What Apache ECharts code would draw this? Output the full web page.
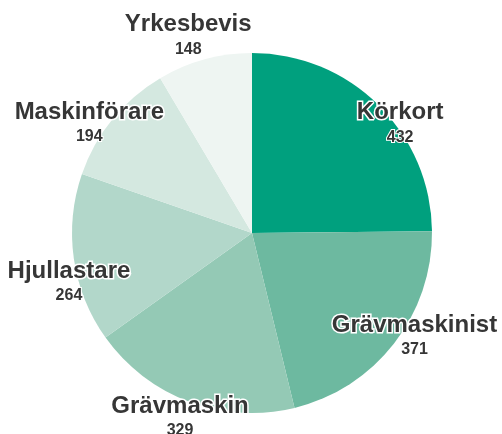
<!DOCTYPE html>
<html>
<head>
<meta charset="utf-8">
<script src="https://cdn.jsdelivr.net/npm/echarts@6/dist/echarts.min.js"></script>
<style>
  html, body { margin: 0; padding: 0; background: #ffffff; }
  #chart { width: 502px; height: 434px; }
</style>
</head>
<body>
<div id="chart"></div>
<script>
// Categories and counts, clockwise from 12 o'clock
const categories = ['Körkort', 'Grävmaskinist', 'Grävmaskin', 'Hjullastare', 'Maskinförare', 'Yrkesbevis'];
const counts = [432, 371, 329, 264, 194, 148];
const sliceColors = ['#00a07e', '#6db9a0', '#94c9b5', '#b2d7ca', '#d4e8e0', '#eef5f2'];

const FONT = 'Liberation Sans, Arial, sans-serif';
const LABEL_PUSH = 12; // extra distance of each label block beyond the rim
// small hand tweaks [dx, dy] so label blocks sit clear of each other
const labelNudge = [[13, 27], [11, -15], [-5, 4], [7, 22], [-14, 12], [-13, -12]];

// mid angle (radians, clockwise from 12 o'clock) of each slice
const total = counts.reduce((a, b) => a + b, 0);
const midAngles = [];
let acc = 0;
counts.forEach(v => {
  midAngles.push((acc + v / 2) / total * Math.PI * 2);
  acc += v;
});

const chart = echarts.init(document.getElementById('chart'), null, { renderer: 'canvas' });

chart.setOption({
  animation: false,
  series: [{
    type: 'pie',
    center: [252, 233],
    radius: [0, 180],
    startAngle: 90,
    clockwise: true,
    avoidLabelOverlap: false,
    data: categories.map((name, i) => ({
      name: name,
      value: counts[i],
      itemStyle: { color: sliceColors[i] }
    })),
    itemStyle: { borderWidth: 0 },
    label: {
      show: true,
      position: 'outside',
      distanceToLabelLine: 0,
      formatter: '{n|{b}}\n{v|{c}}',
      fontFamily: FONT,
      rich: {
        n: {
          fontSize: 24, fontWeight: 'bold', color: '#363636',
          textBorderColor: '#ffffff', textBorderWidth: 3,
          fontFamily: FONT, lineHeight: 27, align: 'center'
        },
        v: {
          fontSize: 16, fontWeight: 'bold', color: '#363636',
          textBorderColor: '#ffffff', textBorderWidth: 2,
          fontFamily: FONT, lineHeight: 22, align: 'center'
        }
      }
    },
    labelLine: { show: false, length: 0, length2: 0 },
    labelLayout: function (params) {
      const i = params.dataIndex;
      const a = midAngles[i];
      return {
        align: 'center',
        verticalAlign: 'middle',
        dx: LABEL_PUSH * Math.sin(a) + labelNudge[i][0],
        dy: -LABEL_PUSH * Math.cos(a) + labelNudge[i][1]
      };
    }
  }]
});
</script>
</body>
</html>
